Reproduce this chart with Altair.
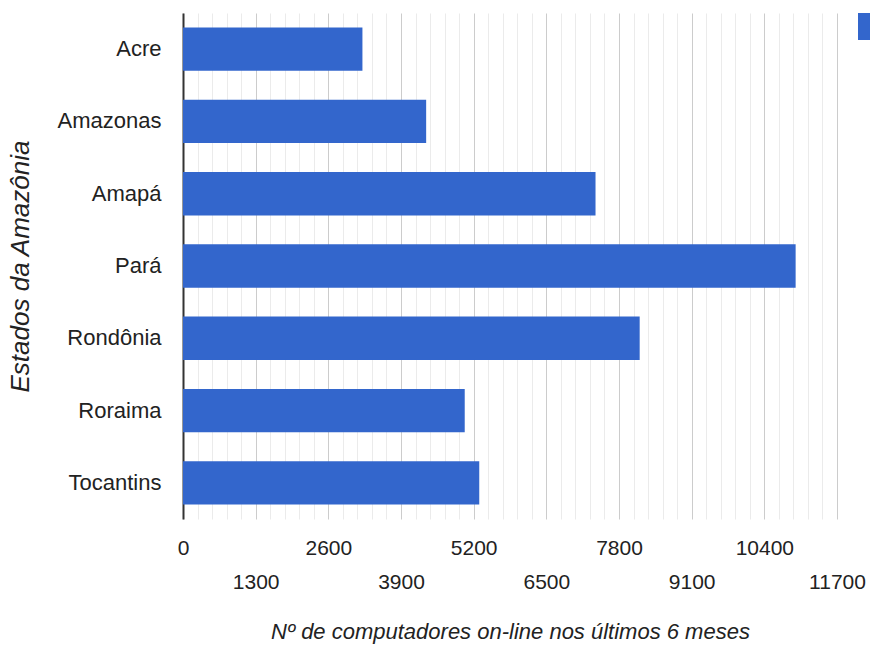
import altair as alt
import pandas as pd

estados = ["Acre", "Amazonas", "Amapá", "Pará", "Rondônia", "Roraima", "Tocantins"]
valores = [3210, 4350, 7380, 10960, 8170, 5040, 5300]
serie = "Nº de computadores"
tick_values = list(range(0, 11701, 260))

df = pd.DataFrame({"estado": estados, "valor": valores, "serie": [serie] * len(estados)})

FONT = "Arial"

x_axis = alt.Axis(
    values=tick_values,
    format="d",
    grid=True,
    gridColor=alt.condition("datum.value % 1300 === 0", alt.value("#cccccc"), alt.value("#ebebeb")),
    gridWidth=1,
    domain=False,
    ticks=False,
    labelExpr="datum.value % 1300 !== 0 ? '' : ((datum.value / 1300) % 2 === 0 ? datum.label : ['', datum.label])",
    labelOverlap=False,
    labelFlush=False,
    labelFont=FONT,
    labelFontSize=21,
    labelColor="#222222",
    labelBaseline="top",
    labelLineHeight=34,
    labelPadding=18,
    title="Nº de computadores on-line nos últimos 6 meses",
    titleFont=FONT,
    titleFontStyle="italic",
    titleFontWeight="normal",
    titleFontSize=22,
    titleColor="#222222",
    titlePadding=29,
)

y_axis = alt.Axis(
    domain=True,
    domainColor="#333333",
    domainWidth=2,
    ticks=False,
    grid=False,
    labelFont=FONT,
    labelFontSize=22,
    labelColor="#222222",
    labelPadding=22,
    title="Estados da Amazônia",
    titleFont=FONT,
    titleFontStyle="italic",
    titleFontWeight="normal",
    titleFontSize=26,
    titleColor="#222222",
    titlePadding=24,
)

chart = (
    alt.Chart(df)
    .mark_bar()
    .encode(
        y=alt.Y("estado:N", sort=estados, axis=y_axis,
                scale=alt.Scale(paddingInner=0.4, paddingOuter=0.2)),
        x=alt.X("valor:Q", axis=x_axis, scale=alt.Scale(domain=[0, 11700], nice=False, zero=True)),
        color=alt.Color(
            "serie:N",
            scale=alt.Scale(range=["#3366cc"]),
            legend=alt.Legend(
                orient="none", legendX=675, legendY=0, title=None,
                symbolType="square", symbolSize=729, symbolStrokeWidth=0,
                labelExpr="''", labelFontSize=1,
                padding=0,
            ),
        ),
    )
    .properties(
        width=654,
        height=506,
        autosize=alt.AutoSizeParams(type="none"),
        padding={"left": 183, "top": 13, "right": 33, "bottom": 127},
        background="white",
    )
    .configure_view(stroke=None)
)

chart.save("out.html", embed_options={"renderer": "svg", "actions": False})
